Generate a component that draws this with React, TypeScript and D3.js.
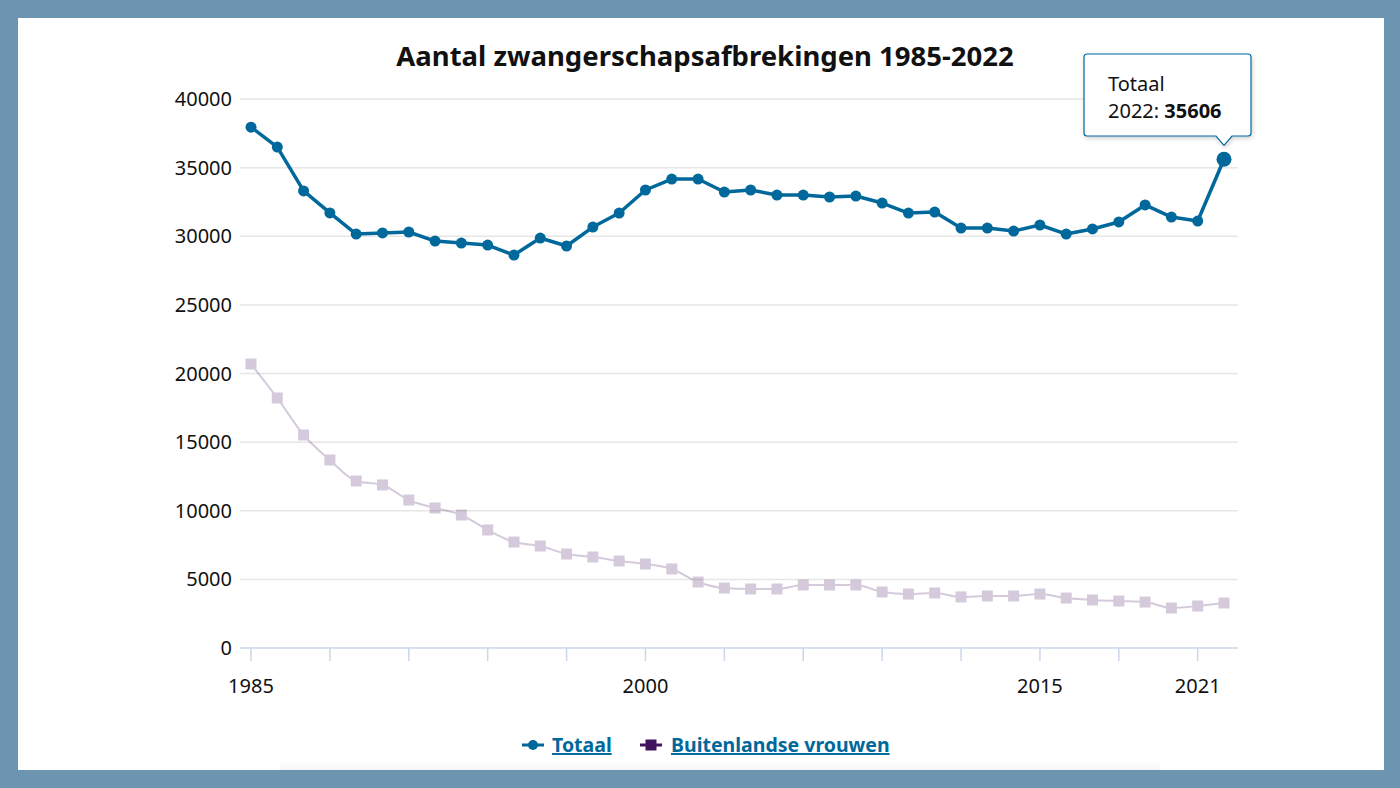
import React from "react";
import * as d3 from "d3";

const years: number[] = d3.range(1985, 2023);
const totaal: number[] = [
  37950, 36500, 33300, 31700, 30160, 30240, 30310, 29650, 29500, 29360,
  28630, 29870, 29290, 30670, 31690, 33370, 34170, 34170, 33220, 33370,
  33000, 33000, 32860, 32930, 32420, 31690, 31760, 30600, 30600, 30380,
  30820, 30160, 30530, 31040, 32280, 31400, 31110, 35606,
];
const buitenlandse: number[] = [
  20690, 18215, 15520, 13700, 12170, 11880, 10780, 10200, 9690, 8600,
  7720, 7430, 6850, 6630, 6340, 6120, 5760, 4810, 4370, 4300,
  4300, 4590, 4590, 4590, 4080, 3930, 4010, 3720, 3790, 3790,
  3930, 3640, 3500, 3420, 3350, 2910, 3060, 3280,
];
const yTicks: number[] = [0, 5000, 10000, 15000, 20000, 25000, 30000, 35000, 40000];
const xTickYears: number[] = d3.range(1985, 2022, 3);
const xLabelYears: number[] = [1985, 2000, 2015, 2021];
const title = "Aantal zwangerschapsafbrekingen 1985-2022";
const seriesNames: string[] = ["Totaal", "Buitenlandse vrouwen"];

const BLUE = "#01689b";
const VIOLET = "#42145f";
const FONT = "'Noto Sans', 'Open Sans', sans-serif";

export default function App() {
  const x = d3.scaleLinear().domain([1985, 2022]).range([251, 1224]);
  const y = d3.scaleLinear().domain([0, 40000]).range([648, 99]);
  const plotLeft = 240;
  const plotRight = 1238;

  const lineT = d3
    .line<number>()
    .x((_, i) => x(years[i]))
    .y((d) => y(d));
  const lineB = d3
    .line<number>()
    .x((_, i) => x(years[i]))
    .y((d) => y(d))
    .curve(d3.curveMonotoneX);

  const last = totaal.length - 1;
  const hx = x(years[last]);
  const hy = y(totaal[last]);

  const tbLeft = 1084;
  const tbRight = 1251;
  const tbTop = 54;
  const tbBottom = 136;
  const tipX = hx;
  const tipY = hy - 14;
  const tipPath = `M${tbLeft + 3},${tbTop} H${tbRight - 3} Q${tbRight},${tbTop} ${tbRight},${tbTop + 3} V${tbBottom - 3} Q${tbRight},${tbBottom} ${tbRight - 3},${tbBottom} H${tipX + 8} L${tipX},${tipY} L${tipX - 8},${tbBottom} H${tbLeft + 3} Q${tbLeft},${tbBottom} ${tbLeft},${tbBottom - 3} V${tbTop + 3} Q${tbLeft},${tbTop} ${tbLeft + 3},${tbTop} Z`;

  return (
    <svg
      width={1400}
      height={788}
      style={{ position: "absolute", left: 0, top: 0, fontFamily: FONT }}
    >
      <defs>
        <filter id="shadow" x="-20%" y="-20%" width="140%" height="150%">
          <feDropShadow dx="1" dy="2" stdDeviation="2" floodColor="#000" floodOpacity="0.18" />
        </filter>
        <linearGradient id="bottomfade" x1="0" y1="0" x2="0" y2="1">
          <stop offset="0" stopColor="#ffffff" />
          <stop offset="1" stopColor="#f6f6f6" />
        </linearGradient>
      </defs>
      <rect x={0} y={0} width={1400} height={788} fill="#6b95b0" />
      <rect x={18} y={18} width={1366} height={752} fill="#ffffff" />
      <rect x={280} y={760} width={880} height={10} fill="url(#bottomfade)" />

      <text
        x={705}
        y={66}
        textAnchor="middle"
        fontSize={27.5}
        fontWeight="bold"
        fill="#111"
      >
        {title}
      </text>

      {yTicks.map((t) =>
        t === 0 ? null : (
          <line
            key={"g" + t}
            x1={plotLeft}
            x2={plotRight}
            y1={y(t)}
            y2={y(t)}
            stroke="#e6e6e6"
            strokeWidth={1.5}
          />
        )
      )}
      {yTicks.map((t) => (
        <text
          key={"yl" + t}
          x={232}
          y={y(t) + 7}
          textAnchor="end"
          fontSize={20}
          fill="#111"
        >
          {t}
        </text>
      ))}

      <line x1={plotLeft} x2={plotRight} y1={648} y2={648} stroke="#ccd6eb" strokeWidth={1.5} />
      {xTickYears.map((yr) => (
        <line
          key={"xt" + yr}
          x1={x(yr)}
          x2={x(yr)}
          y1={648}
          y2={661}
          stroke="#ccd6eb"
          strokeWidth={1.5}
        />
      ))}
      {xLabelYears.map((yr) => (
        <text key={"xl" + yr} x={x(yr)} y={693} textAnchor="middle" fontSize={20} fill="#111">
          {yr}
        </text>
      ))}

      <g opacity={0.22}>
        <path d={lineB(buitenlandse) || ""} fill="none" stroke={VIOLET} strokeWidth={2} />
        {buitenlandse.map((v, i) => (
          <rect
            key={"b" + i}
            x={x(years[i]) - 5.5}
            y={y(v) - 5.5}
            width={11}
            height={11}
            fill={VIOLET}
          />
        ))}
      </g>

      <path d={lineT(totaal) || ""} fill="none" stroke={BLUE} strokeWidth={3.5} strokeLinejoin="round" />
      {totaal.map((v, i) => (
        <circle
          key={"t" + i}
          cx={x(years[i])}
          cy={y(v)}
          r={i === last ? 7.5 : 5.5}
          fill={BLUE}
        />
      ))}

      <path d={tipPath} fill="#ffffff" stroke={BLUE} strokeWidth={1.2} filter="url(#shadow)" />
      <text x={1108} y={91} fontSize={20} fill="#111">
        {seriesNames[0]}
      </text>
      <text x={1108} y={118} fontSize={20} fill="#111">
        {years[last]}:{" "}
        <tspan fontWeight="bold">{totaal[last]}</tspan>
      </text>

      <g>
        <line x1={522} x2={544} y1={745} y2={745} stroke={BLUE} strokeWidth={3} />
        <circle cx={533} cy={745} r={5} fill={BLUE} />
        <text
          x={552}
          y={752}
          fontSize={19.5}
          fontWeight="bold"
          fill={BLUE}
          textDecoration="underline"
        >
          {seriesNames[0]}
        </text>
        <line x1={640} x2={662} y1={745} y2={745} stroke={VIOLET} strokeWidth={3} />
        <rect x={645.5} y={739.5} width={11} height={11} fill={VIOLET} />
        <text
          x={671}
          y={752}
          fontSize={19.5}
          fontWeight="bold"
          fill={BLUE}
          textDecoration="underline"
        >
          {seriesNames[1]}
        </text>
      </g>
    </svg>
  );
}
